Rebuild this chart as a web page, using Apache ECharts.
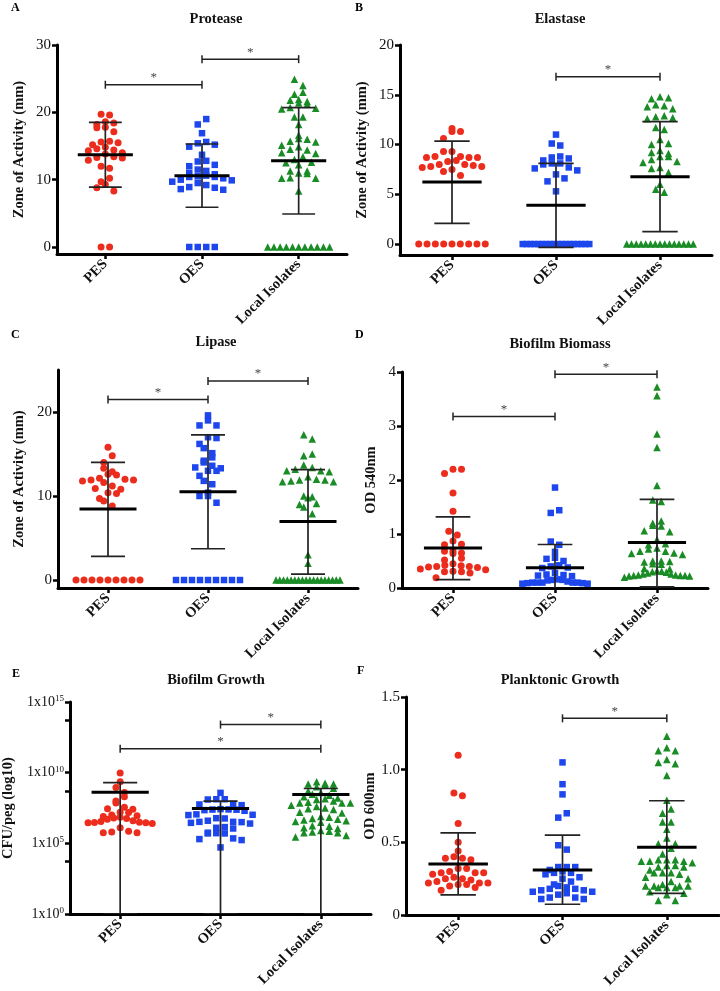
<!DOCTYPE html>
<html><head><meta charset="utf-8">
<script src="https://cdn.jsdelivr.net/npm/echarts@6/dist/echarts.min.js"></script>
<style>html,body{margin:0;padding:0;background:#fff}#c{width:720px;height:991px}</style>
</head><body><div id="c"></div>
<script>
const categories = ['PES', 'OES', 'Local Isolates'];
const panelLetters = ['A', 'B', 'C', 'D', 'E', 'F'];
const panelTitles = ['Protease', 'Elastase', 'Lipase', 'Biofilm Biomass', 'Biofilm Growth', 'Planktonic Growth'];
const yAxisNames = ['Zone of Activity (mm)', 'Zone of Activity (mm)', 'Zone of Activity (mm)', 'OD 540nm', 'CFU/peg (log10)', 'OD 600nm'];

// A Protease
const proteasePES = [19.7,19.6,18.6,18.4,18.2,17.8,17.7,17.1,15.7,15.6,15.5,15.2,14.8,14.6,14.4,14.3,14.0,13.8,13.4,13.3,13.2,12.9,12.0,11.7,10.2,9.7,9.3,8.8,8.3,0,0];
const proteaseOES = [19.0,18.2,16.9,15.6,15.4,15.2,14.9,13.7,12.8,12.7,12.2,12.0,11.5,11.3,11.0,10.8,10.6,10.5,10.4,10.4,10.2,10.0,9.9,9.7,9.5,9.2,8.9,8.8,8.6,8.5,0,0,0,0];
const proteaseLocal = [24.9,24.0,23.0,22.7,21.9,21.8,21.6,21.4,21.2,20.7,20.6,20.5,19.3,19.3,18.2,16.6,16.1,16.0,15.7,15.6,15.1,14.9,14.5,14.4,14.0,13.9,13.4,13.0,12.6,12.5,12.2,11.3,11.3,11.0,10.9,10.3,10.2,10.2,8.3,0,0,0,0,0,0,0,0,0,0,0];
const proteaseMean = [13.7, 10.6, 12.8];
const proteaseSdLow = [8.9, 5.9, 4.9];
const proteaseSdHigh = [18.5, 15.3, 20.7];
const proteaseBrackets = [[0, 1, 24.1], [1, 2, 27.9]];
const proteaseTicks = [0, 10, 20, 30];

// B Elastase
const elastasePES = [11.6,11.3,11.3,10.6,9.3,9.3,8.8,8.8,8.7,8.7,8.7,8.4,8.3,8.0,8.0,7.9,7.8,7.8,7.7,7.5,7.3,6.9,0,0,0,0,0,0,0,0,0];
const elastaseOES = [11.0,10.1,9.9,8.8,8.7,8.6,8.4,8.1,8.1,8.0,7.7,7.6,7.4,7.0,6.6,6.3,5.3,0,0,0,0,0,0,0,0,0,0,0,0,0,0,0,0,0,0];
const elastaseLocal = [14.8,14.7,14.6,14.0,13.9,13.8,13.6,12.9,12.8,12.7,12.6,11.7,11.5,10.5,10.1,10.0,9.4,9.2,9.1,8.8,8.8,8.5,8.3,8.2,7.7,7.6,7.2,6.0,5.5,5.2,0,0,0,0,0,0,0,0,0,0,0,0,0,0,0];
const elastaseMean = [6.23, 3.89, 6.77];
const elastaseSdLow = [2.08, -0.33, 1.24];
const elastaseSdHigh = [10.35, 8.1, 12.3];
const elastaseBrackets = [[1, 2, 16.8]];
const elastaseTicks = [0, 5, 10, 15, 20];

// C Lipase
const lipasePES = [15.8,14.8,14.0,13.3,12.9,12.6,12.5,12.1,12.0,11.9,11.9,11.8,11.6,11.2,10.9,10.8,10.4,10.3,9.7,9.4,8.8,0,0,0,0,0,0,0,0,0];
const lipaseOES = [19.6,19.0,18.4,18.4,17.0,16.9,16.2,15.7,15.1,14.6,14.2,14.0,13.6,13.4,13.3,13.0,13.0,12.4,11.8,11.4,10.4,10.0,10.0,9.2,0,0,0,0,0,0,0,0,0];
const lipaseLocal = [17.3,16.8,15.0,14.8,13.7,13.4,13.2,13.0,13.0,12.9,12.3,12.0,11.9,11.9,11.8,11.7,11.7,10.0,9.9,9.8,9.1,9.0,8.7,7.9,3.0,2.0,0,0,0,0,0,0,0,0,0,0,0,0,0,0,0,0,0,0];
const lipaseMean = [8.44, 10.5, 6.97];
const lipaseSdLow = [2.81, 3.72, 0.71];
const lipaseSdHigh = [14.0, 17.27, 13.15];
const lipaseBrackets = [[0, 1, 21.5], [1, 2, 23.7]];
const lipaseTicks = [0, 10, 20];

// D Biofilm Biomass
const biomassPES = [2.2,2.2,2.12,1.76,1.42,1.05,0.98,0.87,0.81,0.80,0.68,0.68,0.65,0.64,0.55,0.52,0.45,0.42,0.41,0.40,0.40,0.39,0.38,0.35,0.34,0.31,0.30,0.30,0.28,0.19];
const biomassOES = [1.86,1.44,1.39,0.86,0.80,0.67,0.56,0.54,0.50,0.42,0.40,0.38,0.37,0.28,0.25,0.24,0.23,0.22,0.16,0.15,0.15,0.14,0.12,0.10,0.10,0.10,0.10,0.10,0.09,0.09,0.08,0.08];
const biomassLocal = [3.72,3.56,2.85,2.6,1.9,1.63,1.60,1.24,1.20,1.16,1.15,1.06,1.04,0.90,0.82,0.80,0.74,0.72,0.68,0.68,0.65,0.64,0.62,0.50,0.50,0.49,0.48,0.45,0.44,0.36,0.35,0.32,0.31,0.30,0.29,0.28,0.26,0.26,0.24,0.24,0.23,0.23,0.23,0.22,0.22,0.20];
const biomassMean = [0.74, 0.375, 0.843];
const biomassSdLow = [0.154, -0.06, 0.02];
const biomassSdHigh = [1.317, 0.806, 1.643];
const biomassBrackets = [[0, 1, 3.175], [1, 2, 3.96]];
const biomassTicks = [0, 1, 2, 3, 4];

// E Biofilm Growth (log10 CFU/peg)
const growthPES = [9.98,9.35,8.95,8.6,8.3,8.0,7.85,7.55,7.45,7.42,7.2,7.18,7.0,6.95,6.9,6.85,6.8,6.75,6.7,6.6,6.55,6.5,6.48,6.45,6.45,6.4,6.1,5.85,5.8,5.75,5.75];
const growthOES = [8.57,8.12,8.12,8.1,7.78,7.75,7.7,7.42,7.4,7.39,7.38,7.35,7.3,7.05,7.02,7.0,6.78,6.76,6.6,6.52,6.52,6.5,6.45,6.4,6.15,6.1,6.05,5.75,5.72,5.7,5.7,5.35,5.3,5.23,4.71];
const growthLocal = [9.35,9.25,9.2,9.2,9.15,9.0,8.9,8.7,8.6,8.48,8.4,8.3,8.2,8.15,8.1,8.0,7.9,7.85,7.85,7.85,7.7,7.6,7.5,7.45,7.4,7.2,7.15,6.9,6.85,6.75,6.7,6.65,6.6,6.55,6.5,6.25,6.2,6.1,6.05,5.9,5.85,5.8,5.75,5.75,5.55,5.45];
const growthMean = [8.62, 7.46, 8.45];
const growthSdLow = [0, 0, 0];
const growthSdHigh = [9.30, 7.98, 8.88];
const growthBrackets = [[1, 2, 13.4], [0, 2, 11.7]];
const growthTicks = [0, 5, 10, 15];
const growthMinorTicks = [3.7, 8.7, 13.7];

// F Planktonic Growth
const planktonicPES = [1.10,0.84,0.82,0.63,0.50,0.44,0.40,0.39,0.39,0.38,0.32,0.32,0.30,0.29,0.29,0.29,0.28,0.26,0.25,0.25,0.24,0.23,0.22,0.22,0.22,0.21,0.21,0.20,0.19,0.17];
const planktonicOES = [1.05,0.90,0.83,0.70,0.67,0.48,0.45,0.33,0.33,0.33,0.31,0.30,0.29,0.29,0.28,0.26,0.25,0.23,0.21,0.20,0.19,0.18,0.18,0.17,0.17,0.16,0.16,0.15,0.14,0.12,0.12,0.11,0.11];
const planktonicLocal = [1.23,1.15,1.13,1.13,1.07,1.05,1.04,0.96,0.79,0.73,0.70,0.64,0.64,0.59,0.53,0.49,0.49,0.46,0.42,0.38,0.38,0.38,0.37,0.37,0.37,0.36,0.34,0.34,0.33,0.33,0.31,0.29,0.29,0.29,0.28,0.26,0.25,0.23,0.21,0.20,0.20,0.20,0.20,0.19,0.19,0.19,0.16,0.15,0.14,0.10,0.10];
const planktonicMean = [0.351, 0.31, 0.466];
const planktonicSdLow = [0.138, 0.074, 0.149];
const planktonicSdHigh = [0.565, 0.549, 0.786];
const planktonicBrackets = [[1, 2, 1.353]];
const planktonicTicks = [0, 0.5, 1.0, 1.5];

const FF = "'Liberation Serif','Times New Roman',serif";
const groupStyles = [
  { symbol: 'circle', size: 7, color: '#ec2c1c' },
  { symbol: 'rect', size: 6.5, color: '#1d46ec' },
  { symbol: 'triangle', size: 7.5, color: '#1a8c26' }
];

const panels = [
  { groups: [proteasePES, proteaseOES, proteaseLocal], mean: proteaseMean, lo: proteaseSdLow, hi: proteaseSdHigh, brackets: proteaseBrackets, ticks: proteaseTicks,
    left: 57, top: 45, width: 290, height: 209, min: -1.04, max: 30, nameGap: 30, letter: [11, 2], title: [216, 19] },
  { groups: [elastasePES, elastaseOES, elastaseLocal], mean: elastaseMean, lo: elastaseSdLow, hi: elastaseSdHigh, brackets: elastaseBrackets, ticks: elastaseTicks,
    left: 400, top: 45, width: 312, height: 210, min: -1.1, max: 20, nameGap: 30, letter: [355, 2], title: [560, 19] },
  { groups: [lipasePES, lipaseOES, lipaseLocal], mean: lipaseMean, lo: lipaseSdLow, hi: lipaseSdHigh, brackets: lipaseBrackets, ticks: lipaseTicks,
    left: 58, top: 370, width: 300, height: 218, min: -0.95, max: 25, nameGap: 31, letter: [11, 329], title: [216, 342] },
  { groups: [biomassPES, biomassOES, biomassLocal], mean: biomassMean, lo: biomassSdLow, hi: biomassSdHigh, brackets: biomassBrackets, ticks: biomassTicks,
    left: 402, top: 372, width: 306, height: 216, min: 0, max: 4, nameGap: 23, letter: [355, 329], title: [560, 344] },
  { groups: [growthPES, growthOES, growthLocal], mean: growthMean, lo: growthSdLow, hi: growthSdHigh, brackets: growthBrackets, ticks: growthTicks, minor: growthMinorTicks, log: true,
    left: 68, top: 702, width: 303, height: 212, min: 0, max: 15, nameGap: 54, letter: [12, 668], title: [216, 680] },
  { groups: [planktonicPES, planktonicOES, planktonicLocal], mean: planktonicMean, lo: planktonicSdLow, hi: planktonicSdHigh, brackets: planktonicBrackets, ticks: planktonicTicks,
    left: 406, top: 697, width: 313, height: 218, min: 0, max: 1.5, nameGap: 26, letter: [357, 665], title: [560, 680] }
];

// GraphPad-like row layout: bins points into horizontal rows and spreads each row
function swarmOffsets(values, pxPerUnit, bandPx) {
  const idx = values.map((v, i) => i).sort((a, b) => values[a] - values[b]);
  const rowH = 7, step = 8.5, maxW = bandPx * 0.64;
  const off = new Array(values.length).fill(0);
  let row = [], start = 0, rowCount = 0;
  const flush = () => {
    const n = row.length;
    if (!n) return;
    let s = step;
    if (n > 1 && (n - 1) * s > maxW) s = maxW / (n - 1);
    const order = [];
    let lo = 0, hi = n - 1, t = rowCount % 2;
    while (lo <= hi) { if (t) order.push(hi--); else order.push(lo++); t = 1 - t; }
    row.forEach((k, j) => { off[k] = ((order[j] - (n - 1) / 2) * s) / bandPx; });
    row = [];
    rowCount++;
  };
  idx.forEach(k => {
    const py = values[k] * pxPerUnit;
    if (row.length && py - start >= rowH) flush();
    if (!row.length) start = py;
    row.push(k);
  });
  flush();
  return off;
}

const grids = [], xAxes = [], yAxes = [], series = [], graphics = [];
panels.forEach((p, i) => {
  grids.push({ left: p.left, top: p.top, width: p.width, height: p.height });
  xAxes.push({
    gridIndex: i, type: 'value', min: -0.5, max: 2.5,
    axisLine: { show: true, onZero: false, lineStyle: { color: '#000', width: 3 } },
    axisTick: { show: true, customValues: [0, 1, 2], length: 5, lineStyle: { color: '#000', width: 2.5 } },
    axisLabel: { show: true, customValues: [0, 1, 2], formatter: v => categories[Math.round(v)], rotate: 45, margin: 8,
      fontFamily: FF, fontWeight: 'bold', fontSize: 14.5, color: '#111' },
    splitLine: { show: false }
  });
  const labelCfg = p.log
    ? { formatter: v => '1x10{s|' + Math.round(v) + '}', rich: { s: { fontSize: 9, fontFamily: FF, color: '#111', verticalAlign: 'top', padding: [0, 0, 7, 0] } } }
    : { formatter: v => (p.max < 2 && v !== 0 ? v.toFixed(1) : String(v)) };
  yAxes.push({
    gridIndex: i, type: 'value', min: p.min, max: p.max,
    name: yAxisNames[i], nameLocation: 'middle', nameGap: p.nameGap,
    nameTextStyle: { fontFamily: FF, fontWeight: 'bold', fontSize: 14.5, color: '#111' },
    axisLine: { show: true, onZero: false, lineStyle: { color: '#000', width: 3 } },
    axisTick: { show: true, customValues: p.log ? p.ticks.concat(p.minor) : p.ticks, length: 5, lineStyle: { color: '#000', width: 2.5 } },
    axisLabel: Object.assign({ show: true, customValues: p.ticks, margin: 6, fontFamily: FF, fontSize: p.log ? 14 : 15, color: '#111' }, labelCfg),
    splitLine: { show: false }
  });
  const pxPerUnit = p.height / (p.max - p.min);
  const bandPx = p.width / 3;
  p.groups.forEach((vals, g) => {
    const off = swarmOffsets(vals, pxPerUnit, bandPx);
    const st = groupStyles[g];
    series.push({
      type: 'scatter', xAxisIndex: i, yAxisIndex: i, silent: true, z: 2,
      symbol: st.symbol, symbolSize: st.size, itemStyle: { color: st.color, opacity: 1 },
      data: vals.map((v, k) => [g + off[k], v])
    });
  });
  series.push({
    type: 'custom', xAxisIndex: i, yAxisIndex: i, silent: true, z: 5, clip: true,
    data: p.mean.map((m, g) => [g, m, p.lo[g], p.hi[g]]),
    renderItem: (params, api) => {
      const c = api.value(0);
      const pm = api.coord([c, api.value(1)]);
      const pl = api.coord([c, api.value(2)]);
      const ph = api.coord([c, api.value(3)]);
      const band = api.size([1, 0])[0];
      const hw = band * 0.285, cw = band * 0.17;
      const thin = { stroke: '#222', lineWidth: 1.7 };
      return { type: 'group', children: [
        { type: 'line', shape: { x1: pm[0], y1: pl[1], x2: pm[0], y2: ph[1] }, style: thin },
        { type: 'line', shape: { x1: pm[0] - cw, y1: ph[1], x2: pm[0] + cw, y2: ph[1] }, style: thin },
        { type: 'line', shape: { x1: pm[0] - cw, y1: pl[1], x2: pm[0] + cw, y2: pl[1] }, style: thin },
        { type: 'line', shape: { x1: pm[0] - hw, y1: pm[1], x2: pm[0] + hw, y2: pm[1] }, style: { stroke: '#000', lineWidth: 3 } }
      ] };
    }
  });
  series.push({
    type: 'custom', xAxisIndex: i, yAxisIndex: i, silent: true, z: 6, clip: false,
    data: p.brackets,
    renderItem: (params, api) => {
      const y = api.value(2);
      const a = api.coord([api.value(0), y]);
      const b = api.coord([api.value(1), y]);
      const st = { stroke: '#222', lineWidth: 1.5 };
      return { type: 'group', children: [
        { type: 'line', shape: { x1: a[0], y1: a[1], x2: b[0], y2: b[1] }, style: st },
        { type: 'line', shape: { x1: a[0], y1: a[1] - 4, x2: a[0], y2: a[1] + 4 }, style: st },
        { type: 'line', shape: { x1: b[0], y1: b[1] - 4, x2: b[0], y2: b[1] + 4 }, style: st },
        { type: 'text', style: { text: '*', x: (a[0] + b[0]) / 2, y: a[1] - 7, align: 'center', verticalAlign: 'middle', textAlign: 'center', textVerticalAlign: 'middle', fontSize: 13, fontFamily: FF, fill: '#444' } }
      ] };
    }
  });
  graphics.push({ type: 'text', x: p.letter[0], y: p.letter[1], style: { text: panelLetters[i], fontSize: 12, fontWeight: 'bold', fontFamily: FF, fill: '#000', align: 'left', verticalAlign: 'top', textAlign: 'left', textVerticalAlign: 'top' } });
  graphics.push({ type: 'text', x: p.title[0], y: p.title[1], style: { text: panelTitles[i], fontSize: 14.5, fontWeight: 'bold', fontFamily: FF, fill: '#111', align: 'center', verticalAlign: 'middle', textAlign: 'center', textVerticalAlign: 'middle' } });
});

const chart = echarts.init(document.getElementById('c'), null, { renderer: 'canvas' });
chart.setOption({
  animation: false,
  backgroundColor: '#fff',
  grid: grids, xAxis: xAxes, yAxis: yAxes, series: series,
  graphic: { elements: graphics }
});
</script>
</body></html>
